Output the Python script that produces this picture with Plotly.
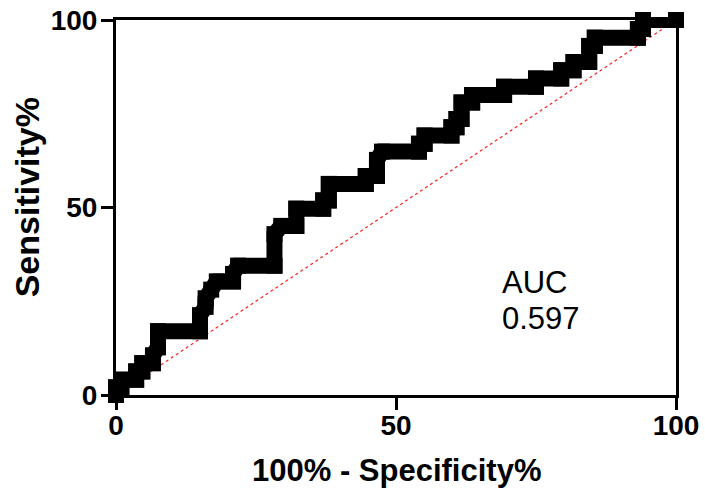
import plotly.graph_objects as go

# ROC curve points (100% - Specificity%, Sensitivity%)
fpr = [0, 0, 0.95, 0.95, 3.6, 3.6, 4.7, 4.7, 6.6, 6.6, 7.5, 7.5, 15.0, 15.0, 16.0, 16.0,
       17.0, 18.0, 20.9, 20.9, 21.8, 28.3, 28.3, 29.5, 32.2, 32.2, 37.0, 37.0, 38.0, 38.0,
       44.6, 44.6, 46.6, 46.6, 47.5, 54.1, 54.1, 55.1, 55.1, 59.9, 59.9, 60.8, 60.8, 61.7,
       61.7, 63.6, 63.6, 69.3, 69.3, 75.0, 75.0, 79.5, 79.5, 81.7, 81.7, 84.5, 84.5, 85.5,
       85.5, 93.2, 93.2, 94.1, 94.1, 100]
tpr = [0, 2.1, 2.1, 4.1, 4.1, 6.3, 6.3, 8.5, 8.5, 10.6, 12.7, 17.0, 17.0, 21.3, 23.5, 25.8,
       28.1, 30.3, 30.3, 32.3, 34.5, 34.5, 42.9, 45.1, 45.1, 49.7, 49.7, 51.9, 51.9, 56.3,
       56.3, 58.4, 58.4, 62.7, 64.9, 64.9, 67.0, 67.0, 69.2, 69.2, 71.4, 71.4, 73.6, 73.6,
       78.0, 78.0, 80.0, 80.0, 82.2, 82.2, 84.4, 84.4, 86.6, 86.6, 88.8, 88.8, 93.1, 93.1,
       95.3, 95.3, 97.6, 97.6, 100, 100]

ref_x = [0, 100]
ref_y = [0, 100]

auc_label = "AUC"
auc_value = "0.597"
x_title = "100% - Specificity%"
y_title = "Sensitivity%"

x_ticks = [0, 50, 100]
y_ticks = [0, 50, 100]

FONT = "Arial, Liberation Sans, sans-serif"

fig = go.Figure()
fig.add_trace(go.Scatter(x=ref_x, y=ref_y, mode="lines",
                         line=dict(color="#ff2020", width=1.2, dash="dot"),
                         hoverinfo="skip", showlegend=False))
fig.add_trace(go.Scatter(x=fpr, y=tpr, mode="lines+markers",
                         line=dict(color="black", width=16),
                         marker=dict(symbol="square", size=16, color="black",
                                     line=dict(width=0)),
                         cliponaxis=False, showlegend=False))

fig.add_annotation(x=68.6, y=29.9, xref="x", yref="y", text=auc_label,
                   showarrow=False, xanchor="left", yanchor="middle",
                   font=dict(family=FONT, size=31, color="black"))
fig.add_annotation(x=68.6, y=20.4, xref="x", yref="y", text=auc_value,
                   showarrow=False, xanchor="left", yanchor="middle",
                   font=dict(family=FONT, size=31, color="black"))

# axis titles
fig.add_annotation(x=0.5, y=-0.2, xref="paper", yref="paper", text=x_title,
                   showarrow=False, xanchor="center", yanchor="middle",
                   font=dict(family=FONT, size=31, color="black", weight="bold"))
fig.add_annotation(x=-0.159, y=0.527, xref="paper", yref="paper", text=y_title,
                   showarrow=False, xanchor="center", yanchor="middle", textangle=-90,
                   font=dict(family=FONT, size=34, color="black", weight="bold"))

axis_common = dict(showgrid=False, zeroline=False, showline=True, linecolor="black",
                   linewidth=3, mirror=True, ticks="outside", ticklen=12, tickwidth=3,
                   tickcolor="black", automargin=False,
                   tickfont=dict(family=FONT, size=28, color="black", weight="bold"))

fig.update_xaxes(range=[0, 100], tickvals=x_ticks, ticktext=[str(v) for v in x_ticks],
                 ticklabelstandoff=-9, **axis_common)
fig.update_yaxes(range=[0, 100], tickvals=y_ticks, ticktext=[str(v) for v in y_ticks],
                 ticklabelstandoff=-2, **axis_common)

fig.update_layout(width=705, height=495, margin=dict(l=116, r=29, t=20, b=100),
                  plot_bgcolor="white", paper_bgcolor="white")

fig.write_html("out.html")
